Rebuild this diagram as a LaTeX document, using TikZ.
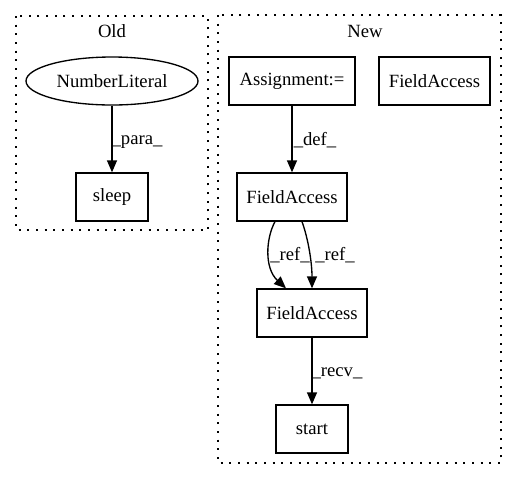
\documentclass[tikz,border=0pt]{standalone}
\usepackage{fontspec}
\setmainfont{Liberation Serif}
\usetikzlibrary{arrows.meta,calc,shapes.geometric}
\begin{document}
\begin{tikzpicture}[x=0.75pt,y=-0.75pt,
  every node/.style={font=\fontsize{14pt}{16pt}\selectfont, inner sep=0pt},
  box/.style={draw, line width=1pt, rectangle, minimum height=36pt},
  ell/.style={draw, line width=1pt, ellipse, minimum height=36pt},
  cluster/.style={draw, line width=1pt, dash pattern=on 1.5pt off 5pt},
  edge/.style={draw, line width=1pt, -{Triangle[length=9pt,width=7.5pt]}},
  lbl/.style={anchor=center}]
\useasboundingbox (0,0) rectangle (517,480);
% clusters
\draw[cluster] (16,16) rectangle (208,230);
\node[lbl] (oldlbl) at (112,31) {Old};
\draw[cluster] (218,15) rectangle (501,463);
\node[lbl] (newlbl) at (365,31) {New};
% Old nodes
\node[ell, minimum width=129pt] (nl) at (112,81) {NumberLiteral};
\node[box, minimum width=54pt] (sleep) at (112,197) {sleep};
% New nodes
\node[box, minimum width=94.5pt] (asg) at (292,81) {Assignment:=};
\node[box, minimum width=83.25pt] (fa1) at (434.5,81) {FieldAccess};
\node[box, minimum width=82.5pt] (fa2) at (292,197) {FieldAccess};
\node[box, minimum width=82.5pt] (fa3) at (312,313) {FieldAccess};
\node[box, minimum width=54pt] (start) at (312,429) {start};
% edges
\draw[edge] (nl) -- (sleep);
\node[lbl] (lpara) at (137,142) {\_para\_};
\draw[edge] (asg) -- (fa2);
\node[lbl] (ldef) at (315,140) {\_def\_};
\draw[edge] ($(fa2.south)+(-17,0)$) .. controls (266,238) and (264,268) .. ($(fa3.north)+(-26,0)$);
\draw[edge] ($(fa2.south)+(10,0)$) .. controls (308,238) and (312,262) .. (fa3.north);
\node[lbl] (lref1) at (290,255) {\_ref\_};
\node[lbl] (lref2) at (335,255) {\_ref\_};
\draw[edge] (fa3) -- (start);
\node[lbl] (lrecv) at (337,373) {\_recv\_};
\end{tikzpicture}
\end{document}
